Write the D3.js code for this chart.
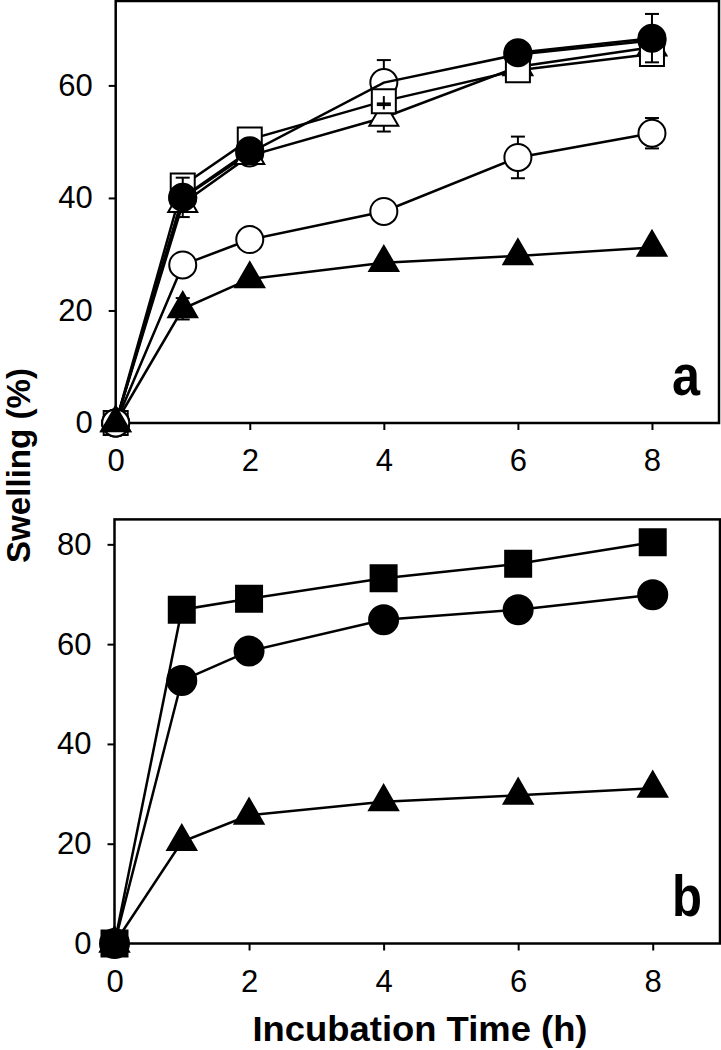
<!DOCTYPE html>
<html><head><meta charset="utf-8">
<script src="https://cdn.jsdelivr.net/npm/d3@7"></script>
<style>body{margin:0;background:#fff} svg{display:block}</style>
</head><body>
<svg id="c" width="721" height="1050"></svg>
<script>
// ---- data ----
const hours = [0, 1, 2, 4, 6, 8];
const xTicks = [0, 2, 4, 6, 8];
const aYTicks = [0, 20, 40, 60];
const bYTicks = [0, 20, 40, 60, 80];

// panel a
const aOpenCircleHigh    = [0, 40.0, 48.0, 60.5, 65.5, 68.0];
const aOpenCircleHighErr = [0, 1.0, 1.0, 4.0, 1.0, 1.0];
const aOpenTriangle      = [0, 39.0, 47.5, 54.3, 63.3, 66.8];
const aOpenTriangleErr   = [0, 1.5, 1.0, 2.5, 1.0, 1.0];
const aOpenSquare        = [0, 42.2, 50.4, 57.2, 62.7, 65.6];
const aOpenSquareErr     = [0, 1.5, 2.0, 2.0, 1.0, 1.5];
const aFilledCircle      = [0, 40.1, 48.4, null, 65.8, 68.4];
const aFilledCircleErr   = [0, 3.5, 1.0, 0, 1.0, 4.3];
const aOpenCircleLow     = [0, 28.1, 32.6, 37.6, 47.2, 51.5];
const aOpenCircleLowErr  = [0, 0.5, 0.5, 0.5, 3.7, 2.7];
const aFilledTriangle    = [0, 20.3, 25.6, 28.5, 29.7, 31.2];
const aFilledTriangleErr = [0, 1.9, 0.5, 0.5, 0.5, 0.5];

// panel b
const bFilledSquare      = [0, 66.9, 69.1, 73.2, 76.1, 80.4];
const bFilledSquareErr   = [0, 0.5, 0.5, 0.5, 0.5, 0.5];
const bFilledCircle      = [0, 52.7, 58.6, 64.9, 66.9, 69.9];
const bFilledCircleErr   = [0, 0.5, 0.5, 0.5, 0.5, 0.5];
const bFilledTriangle    = [0, 20.4, 25.7, 28.4, 29.7, 31.1];
const bFilledTriangleErr = [0, 1.5, 0.5, 0.3, 0.3, 0.3];

const FONT = '"Liberation Sans", Arial, Helvetica, sans-serif';
const svg = d3.select('#c');

function panel(cfg) {
  const {x, y, yTicks, series, letter, letterX, letterY, letterW} = cfg;
  const g = svg.append('g');
  const [x0, x1] = x.range();
  const [y0, y1] = y.range();

  // axes (ticks only)
  const ya = g.append('g').attr('transform', `translate(${x0},0)`)
    .call(d3.axisLeft(y).tickValues(yTicks).tickSize(7).tickPadding(16).tickFormat(d3.format('d')));
  const xa = g.append('g').attr('transform', `translate(0,${y0})`)
    .call(d3.axisBottom(x).tickValues(xTicks).tickSize(7).tickPadding(19).tickFormat(d3.format('d')));
  [ya, xa].forEach(a => {
    a.select('.domain').remove();
    a.selectAll('line').attr('stroke', '#000').attr('stroke-width', 2);
    a.selectAll('text').attr('font-family', FONT).attr('font-size', 31).attr('fill', '#000');
  });

  // box
  g.append('rect').attr('x', x0).attr('y', y1).attr('width', x1 - x0).attr('height', y0 - y1)
    .attr('fill', 'none').attr('stroke', '#000').attr('stroke-width', 2.5);

  const line = d3.line().defined(d => d.v != null).x(d => x(d.h)).y(d => y(d.v));
  const pts = s => hours.map((h, i) => ({h, v: s.vals[i], e: s.err[i]}));

  // lines
  series.forEach(s => {
    g.append('path').attr('d', line(pts(s))).attr('fill', 'none')
      .attr('stroke', '#000').attr('stroke-width', 2.5);
  });

  // markers
  series.forEach(s => {
    const type = s.shape === 'circle' ? d3.symbolCircle : s.shape === 'square' ? d3.symbolSquare : d3.symbolTriangle;
    const sym = d3.symbol().type(type).size(s.size);
    pts(s).filter(d => d.v != null).forEach(d => {
      g.append('path').attr('d', sym()).attr('transform', `translate(${x(d.h)},${y(d.v)})`)
        .attr('fill', s.fill).attr('stroke', '#000').attr('stroke-width', 2);
    });
  });

  // error bars from marker edge outward
  series.forEach(s => {
    pts(s).filter(d => d.v != null && d.e > 0).forEach(d => {
      const cx = x(d.h), cy = y(d.v);
      const ePx = Math.abs(y(d.v + d.e) - cy);
      const half = s.half;
      if (ePx <= half + 1) return;
      [-1, 1].forEach(sg => {
        g.append('line').attr('x1', cx).attr('x2', cx)
          .attr('y1', cy + sg * half).attr('y2', cy + sg * ePx)
          .attr('stroke', '#000').attr('stroke-width', 2);
        g.append('line').attr('x1', cx - 7).attr('x2', cx + 7)
          .attr('y1', cy + sg * ePx).attr('y2', cy + sg * ePx)
          .attr('stroke', '#000').attr('stroke-width', 2);
      });
    });
  });

  g.append('text').attr('x', letterX).attr('y', letterY).attr('text-anchor', 'end')
    .attr('font-family', FONT).attr('font-weight', 'bold').attr('font-size', 57)
    .attr('textLength', letterW).attr('lengthAdjust', 'spacingAndGlyphs')
    .text(letter);
}

const cA = Math.PI * 13.5 * 13.5, sA = 24 * 24, tA = Math.sqrt(3) / 4 * 29 * 29;
const cB = Math.PI * 14.5 * 14.5, sB = 26 * 26;

panel({
  x: d3.scaleLinear().domain([0, 9]).range([115.7, 719]),
  y: d3.scaleLinear().domain([0, 75]).range([423, 1]),
  yTicks: aYTicks,
  letter: 'a', letterX: 700, letterY: 395, letterW: 28,
  series: [
    {vals: aOpenCircleHigh, err: aOpenCircleHighErr, shape: 'circle', fill: 'none', size: cA, half: 13.5},
    {vals: aOpenTriangle, err: aOpenTriangleErr, shape: 'triangle', fill: '#fff', size: tA, half: 8},
    {vals: aOpenSquare, err: aOpenSquareErr, shape: 'square', fill: '#fff', size: sA, half: 12},
    {vals: aFilledCircle, err: aFilledCircleErr, shape: 'circle', fill: '#000', size: cA, half: 13.5},
    {vals: aOpenCircleLow, err: aOpenCircleLowErr, shape: 'circle', fill: '#fff', size: cA, half: 13.5},
    {vals: aFilledTriangle, err: aFilledTriangleErr, shape: 'triangle', fill: '#000', size: tA, half: 8}
  ]
});

panel({
  x: d3.scaleLinear().domain([0, 9]).range([114.5, 720]),
  y: d3.scaleLinear().domain([0, 85]).range([943.5, 519.4]),
  yTicks: bYTicks,
  letter: 'b', letterX: 702, letterY: 916, letterW: 30,
  series: [
    {vals: bFilledSquare, err: bFilledSquareErr, shape: 'square', fill: '#000', size: sB, half: 13},
    {vals: bFilledCircle, err: bFilledCircleErr, shape: 'circle', fill: '#000', size: cB, half: 14.5},
    {vals: bFilledTriangle, err: bFilledTriangleErr, shape: 'triangle', fill: '#000', size: tA, half: 8}
  ]
});

// axis titles
svg.append('text').attr('x', 420).attr('y', 1041).attr('text-anchor', 'middle')
  .attr('font-family', FONT).attr('font-weight', 'bold').attr('font-size', 35)
  .attr('textLength', 335).attr('lengthAdjust', 'spacingAndGlyphs')
  .text('Incubation Time (h)');
svg.append('text').attr('transform', 'translate(30,465.5) rotate(-90)').attr('text-anchor', 'middle')
  .attr('font-family', FONT).attr('font-weight', 'bold').attr('font-size', 33)
  .attr('textLength', 195).attr('lengthAdjust', 'spacingAndGlyphs')
  .text('Swelling (%)');
</script>
</body></html>
